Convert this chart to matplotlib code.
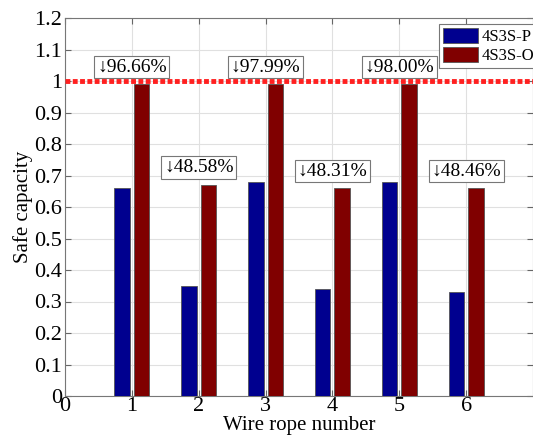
import matplotlib.pyplot as plt
import numpy as np

# safe capacity of each wire rope, two anchoring configurations
rope_ids = [1, 2, 3, 4, 5, 6]
cap_p = [0.66, 0.35, 0.68, 0.34, 0.68, 0.33]
cap_o = [0.99, 0.67, 0.99, 0.66, 0.99, 0.66]
drop_labels = ["96.66%", "48.58%", "97.99%", "48.31%", "98.00%", "48.46%"]
yticks = [0, 0.1, 0.2, 0.3, 0.4, 0.5, 0.6, 0.7, 0.8, 0.9, 1, 1.1, 1.2]
ytick_labels = ["0", "0.1", "0.2", "0.3", "0.4", "0.5", "0.6", "0.7",
                "0.8", "0.9", "1", "1.1", "1.2"]

plt.rcParams["font.family"] = ["Liberation Serif", "DejaVu Serif"]

fig = plt.figure(figsize=(5.33, 4.42), dpi=100)
ax = fig.add_axes([65 / 533, 46 / 442, 468 / 533, 378 / 442])

x = np.array(rope_ids)
w = 0.23
ax.bar(x - 0.145, cap_p, w, color="#00008f", edgecolor="#555555",
       linewidth=0.6, label="4S3S-P", zorder=3)
ax.bar(x + 0.145, cap_o, w, color="#800000", edgecolor="#555555",
       linewidth=0.6, label="4S3S-O", zorder=3)

# allowable limit
ax.axhline(1.0, color="#ff2020", linewidth=3.5, linestyle=(0, (1, 0.5)), zorder=4)

for xi, v, s in zip(x, cap_o, drop_labels):
    ax.text(xi, v + 0.055, "\u2193" + s, ha="center", va="center", fontsize=14,
            bbox=dict(boxstyle="square,pad=0.14", fc="white", ec="#777777", lw=0.8),
            zorder=5)

ax.set_xlim(0, 7)
ax.set_ylim(0, 1.2)
ax.set_xticks([0, 1, 2, 3, 4, 5, 6])
ax.set_yticks(yticks)
ax.set_yticklabels(ytick_labels)
ax.tick_params(direction="in", top=True, right=True, labelsize=16, length=4,
               color="#666666", pad=2)
ax.tick_params(axis="x", pad=1)
ax.grid(True, color="#e0e0e0", linewidth=0.8, zorder=0)
for sp in ax.spines.values():
    sp.set_color("#777777")

ax.set_xlabel("Wire rope number", fontsize=15, labelpad=0)
ax.set_ylabel("Safe capacity", fontsize=15, labelpad=1)

leg = ax.legend(loc="upper right", bbox_to_anchor=(1.012, 0.985), fontsize=12,
                fancybox=False, framealpha=1, edgecolor="#777777",
                handlelength=2.1, handleheight=1.0, borderaxespad=0,
                borderpad=0.25, labelspacing=0.1, handletextpad=0.2)
leg.get_frame().set_linewidth(0.8)
leg.set_zorder(6)

fig.savefig("out.png", dpi=100)
